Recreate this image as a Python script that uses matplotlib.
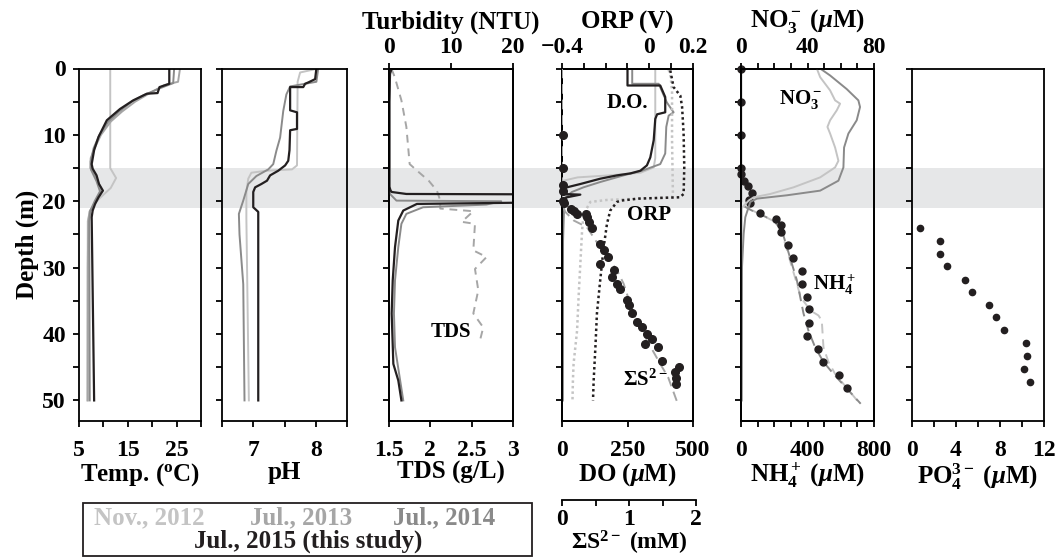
import matplotlib.pyplot as plt
import matplotlib.transforms as mtransforms
from matplotlib.patches import Rectangle

plt.rcParams['font.family'] = 'Liberation Serif'
plt.rcParams['font.weight'] = 'bold'
plt.rcParams['axes.labelweight'] = 'bold'
plt.rcParams['mathtext.fontset'] = 'custom'
plt.rcParams['mathtext.rm'] = 'Liberation Serif:bold'
plt.rcParams['mathtext.it'] = 'Liberation Serif:italic:bold'
plt.rcParams['mathtext.bf'] = 'Liberation Serif:bold'

C12 = '#c4c4c4'
C13 = '#a6a6a6'
C14 = '#8a8a8a'
CK = '#231f20'

# ---- data (depth in m) ----
temp_2012_d = [0, 15, 16.5, 18, 19.5, 20.6, 21.5, 23, 50]
temp_2012 = [11.4, 11.4, 12.6, 11.5, 9.3, 7.9, 7.2, 6.8, 6.7]
temp_2013_d = [0, 2.0, 2.5, 3.5, 5, 6.5, 8, 10, 12, 13.5, 15, 16, 17, 18, 19, 20, 21.5, 23, 30, 50]
temp_2013 = [25.7, 25.3, 22.5, 20.0, 16.5, 13.8, 11.5, 9.5, 8.2, 7.4, 7.3, 8.2, 8.8, 9.5, 9.3, 8.5, 7.2, 6.9, 6.8, 6.8]
temp_2014_d = [0, 2.2, 3.0, 4.0, 5.0, 6.5, 8, 10, 12, 14, 15.3, 17, 18.5, 20, 21.5, 23, 50]
temp_2014 = [24.5, 24.3, 21.5, 18.3, 15.8, 13.2, 11.0, 9.2, 8.0, 7.4, 7.5, 8.6, 9.3, 8.2, 7.3, 7.1, 7.2]
temp_2015_d = [0, 2.3, 2.8, 3.7, 3.8, 4.8, 6.1, 7.8, 10.3, 12.3, 14.4, 15.1, 16.1, 17.4, 18.4, 19.4, 20.4, 21.4, 22.4, 50]
temp_2015 = [23.5, 23.5, 21.5, 21.1, 18.9, 16.1, 13.4, 10.7, 9.0, 8.1, 7.6, 7.8, 8.6, 9.1, 9.9, 9.0, 8.3, 7.8, 7.6, 8.1]

ph_2012_d = [0, 0.6, 2.0, 14.6, 15.2, 15.4, 15.7, 16.6, 18.6, 22.6, 50]
ph_2012 = [8.04, 7.75, 7.71, 7.70, 7.62, 7.21, 6.97, 6.92, 6.89, 6.89, 6.93]
ph_2013_d = [0, 2.0, 2.7, 3.9, 6.4, 10.4, 12.4, 14.4, 15.2, 16.2, 17.4, 19.9, 21.9, 25, 32.5, 50]
ph_2013 = [8.04, 8.01, 7.59, 7.53, 7.48, 7.43, 7.37, 7.32, 7.24, 7.05, 6.92, 6.84, 6.77, 6.78, 6.84, 6.86]
ph_2015_d = [0, 1.6, 2.1, 2.3, 2.8, 2.8, 6.3, 6.6, 9.1, 9.3, 12.3, 13.9, 14.6, 15.4, 16.1, 16.9, 17.4, 17.9, 18.6, 20.9, 21.6, 50]
ph_2015 = [8.01, 7.99, 7.88, 7.83, 7.80, 7.59, 7.59, 7.70, 7.70, 7.59, 7.58, 7.56, 7.51, 7.40, 7.27, 7.22, 7.13, 7.03, 7.0, 7.0, 7.08, 7.08]

turb_2013_d = [0, 5, 18.0, 18.9, 19.9, 20.0, 20.5, 20.9, 21.9, 23.4, 26.9, 31.9, 36.9, 42, 47, 50]
turb_2013 = [0.2, 0.1, 0.1, 0.16, 1.2, 18.1, 15.7, 5.5, 2.8, 2.0, 1.5, 0.97, 0.80, 0.97, 1.8, 2.3]
turb_2015_d = [0, 0.8, 5, 17.8, 18.4, 18.6, 18.9, 19.0, 20.0, 20.4, 21.4, 22.9, 26.9, 31.9, 36.9, 44.5, 47, 50]
turb_2015 = [0.43, 0.16, 0.05, 0.05, 0.27, 0.43, 2.8, 40, 40, 4.5, 2.3, 1.5, 0.97, 0.6, 0.43, 0.7, 1.5, 2.0]
tds_d = [0.05, 1.3, 4.8, 8.8, 14.4, 15.4, 16.9, 18.4, 19.9, 21.1, 21.5, 23.1, 23.4, 27.4, 28.4, 30.2, 33.4, 36.9, 39.0, 41.0]
tds = [1.53, 1.57, 1.65, 1.71, 1.75, 1.84, 1.98, 2.08, 2.12, 2.12, 2.52, 2.38, 2.54, 2.52, 2.68, 2.54, 2.58, 2.52, 2.64, 2.60]

do_2012_d = [0, 13.5, 14.9, 15.7, 16.1, 16.4, 16.9, 18, 50]
do_2012 = [356, 356, 350, 300, 180, 60, 5, 0, 0]
do_2013_d = [0, 2.3, 2.3, 5.1, 6.6, 7.1, 8.8, 12.8, 14.4, 15.4, 16.1, 17.1, 17.9, 18.6, 19.4, 21, 26, 50]
do_2013 = [268, 268, 369, 400, 426, 407, 398, 394, 375, 305, 235, 146, 82, 38, 13, 8, 4, 3]
do_2015_d = [0, 2.56, 2.56, 4.3, 6.6, 6.9, 7.6, 10.8, 13.4, 14.6, 15.4, 15.8, 16.1, 16.6, 17.4, 17.9, 18.1, 18.9, 19.0, 19.4, 19.9, 50]
do_2015 = [250, 250, 375, 394, 394, 363, 356, 350, 337, 324, 299, 261, 210, 146, 70, 19, 0, 0, 70, 19, 0, 0]

orp_2012_d = [0.2, 0.8, 3.3, 10.8, 18.9, 19.4, 19.6, 19.8, 20.1, 21.9, 24.4, 29.4, 34.4, 39.5, 44.5, 47, 50]
orp_2012 = [0.088, 0.096, 0.104, 0.104, 0.108, 0.104, -0.041, -0.194, -0.270, -0.301, -0.308, -0.316, -0.324, -0.331, -0.347, -0.350, -0.352]
orp_2015_d = [0.3, 2.8, 4.1, 5.8, 9.8, 14.9, 18.9, 19.4, 19.6, 19.9, 20.1, 21.4, 23.4, 26.9, 31.9, 36.9, 42, 47, 50]
orp_2015 = [0.096, 0.111, 0.142, 0.150, 0.157, 0.160, 0.157, 0.14, -0.05, -0.13, -0.148, -0.179, -0.194, -0.209, -0.225, -0.240, -0.247, -0.255, -0.258]

sulf_2015_d = [10, 15, 17.6, 18.4, 19.9, 20.2, 21.1, 21.4, 21.9, 21.9, 22.4, 23.1, 24.1, 26.4, 27.4, 28.4, 29.4, 30.4,
               31.4, 32.4, 33.2, 34.9, 35.7, 36.9, 38.2, 39.0, 40.0, 40.7, 41.5, 42.0, 44.0, 45.0, 45.7, 46.6, 47.5]
sulf_2015 = [0.01, 0.01, 0.01, 0.01, 0.01, 0.03, 0.13, 0.18, 0.23, 0.36, 0.38, 0.41, 0.46, 0.58, 0.64, 0.70, 0.58, 0.79,
             0.76, 0.84, 0.89, 0.99, 1.02, 1.07, 1.15, 1.22, 1.30, 1.37, 1.27, 1.47, 1.53, 1.78, 1.73, 1.74, 1.74]
sulf_2013_d = [0, 20.4, 21.6, 22.9, 23.9, 26.9, 30.4, 32.4, 36.9, 41.0, 44.5, 46.5, 50.3]
sulf_2013 = [0, 0, 0.05, 0.18, 0.38, 0.58, 0.84, 0.94, 1.09, 1.30, 1.50, 1.62, 1.76]

no3_2012_d = [0, 1.3, 3.3, 4.8, 5.3, 6.3, 7.8, 8.8, 9.8, 11.9, 13.9, 14.9, 16.4, 17.9, 18.9, 19.4, 19.9, 21, 50]
no3_2012 = [45.6, 47.6, 53.6, 56.6, 59.6, 57.6, 53.6, 52.0, 53.6, 56.6, 58.6, 56.6, 47.6, 31.6, 17.6, 7.6, 4.6, 0.5, 0.3]
no3_2013_d = [0, 1.05, 3.1, 4.8, 5.8, 7.8, 9.8, 11.9, 14.9, 16.9, 18.4, 19.1, 19.6, 20.1, 22.4, 24.9, 29.9, 50]
no3_2013 = [47.6, 53.6, 63.6, 70.6, 71.6, 69.6, 64.6, 62.0, 61.6, 58.6, 47.6, 27.6, 9.6, 5.6, 2.6, 1.6, 0.6, 0.4]
no3_2015_d = [0, 20]
no3_2015 = [0.3, 0.3]

nh4_2015_d = [0, 5, 10, 15, 15.9, 16.9, 17.7, 18.8, 19.8, 20.2, 21.7, 22.7, 23.6, 24.6, 26.6, 28.6, 30.5, 32.5, 34.4,
              36.3, 38.4, 40.3, 42.2, 44.2, 46.1, 48.2]
nh4_2015 = [0, 0, 0, 0, 0, 20, 40, 68, 46, 56, 112, 212, 240, 240, 282, 312, 366, 366, 396,
            410, 410, 396, 466, 496, 588, 638]
nh4_2013_d = [0, 20.5, 21.4, 22.9, 24.4, 26.9, 29.4, 31.9, 34.4, 36.9, 39.5, 42.0, 44.2, 46.0, 50.5]
nh4_2013 = [0, 0, 66, 196, 246, 276, 306, 336, 356, 376, 406, 446, 496, 556, 720]
nh4_2012_d = [21.4, 22.9, 24.4, 26.9, 29.4, 31.9, 34.5, 36.5, 37.2, 38.0, 42.0, 44.2, 46.0, 50.5]
nh4_2012 = [70, 190, 240, 272, 300, 330, 360, 420, 466, 486, 496, 526, 566, 715]

po4_2015_d = [24.1, 26.0, 27.9, 29.8, 31.8, 33.7, 35.6, 37.5, 39.4, 41.4, 43.3, 45.3, 47.2]
po4_2015 = [0.73, 2.52, 2.52, 3.21, 4.85, 5.45, 6.97, 7.67, 8.33, 10.33, 10.45, 10.15, 10.76]

legend_labels = ['Nov., 2012', 'Jul., 2013', 'Jul., 2014', 'Jul., 2015 (this study)']

# ---- layout ----
W, H = 1058, 558
fig = plt.figure(figsize=(W / 100, H / 100), dpi=100)
TOP, BOT = 68.5, 421
DMAX = 53.1
FS = 17


def panel(x0, x1):
    ax = fig.add_axes([x0 / W, 1 - BOT / H, (x1 - x0) / W, (BOT - TOP) / H])
    ax.set_facecolor('none')
    ax.set_ylim(DMAX, 0)
    ax.set_yticks(range(0, 51, 5))
    ax.set_yticklabels([])
    ax.tick_params(direction='out', length=4.5, width=1.3, labelsize=FS)
    ax.tick_params(axis='x', pad=9)
    ax.tick_params(axis='y', pad=5)
    for s in ax.spines.values():
        s.set_linewidth(1.3)
    return ax


def top_twin(ax):
    t = ax.twiny()
    t.tick_params(direction='out', length=4.5, width=1.3, labelsize=FS, pad=3)
    for s in t.spines.values():
        s.set_linewidth(1.3)
    return t


ax1 = panel(79, 201)
ax2 = panel(222, 347)
ax3 = panel(389, 513)
ax4 = panel(562, 693)
ax5 = panel(741, 874)
ax6 = panel(912, 1044)

# grey band (15-21 m) across all panels
tr = mtransforms.blended_transform_factory(fig.transFigure, ax1.transData)
fig.add_artist(Rectangle((79 / W, 15), (1044 - 79) / W, 6, transform=tr,
                         facecolor='#e6e7e8', edgecolor='none', zorder=-1))

# panel 1: temperature
ax1.plot(temp_2012, temp_2012_d, color=C12, lw=1.4)
ax1.plot(temp_2013, temp_2013_d, color=C13, lw=1.4)
ax1.plot(temp_2014, temp_2014_d, color=C14, lw=1.4)
ax1.plot(temp_2015, temp_2015_d, color=CK, lw=1.6)
ax1.set_xlim(5, 30)
ax1.set_xticks(range(5, 31, 5))
ax1.set_xticklabels(['5', '', '15', '', '25', ''])
ax1.set_yticklabels(['0', '', '10', '', '20', '', '30', '', '40', '', '50'])
ax1.set_xlabel('Temp. ($^{\\mathrm{o}}$C)', fontsize=18, labelpad=0)
ax1.set_ylabel('Depth (m)', fontsize=18, labelpad=2)

# panel 2: pH
ax2.plot(ph_2012, ph_2012_d, color=C12, lw=1.4)
ax2.plot(ph_2013, ph_2013_d, color=C14, lw=1.4)
ax2.plot(ph_2015, ph_2015_d, color=CK, lw=1.6)
ax2.set_xlim(6.5, 8.5)
ax2.set_xticks([6.5, 7, 7.5, 8, 8.5])
ax2.set_xticklabels(['', '7', '', '8', ''])
ax2.set_xlabel('pH', fontsize=18, labelpad=0)

# panel 3: TDS (bottom) and turbidity (top)
ax3.plot(tds, tds_d, color=C13, lw=1.4, ls=(0, (4, 3)))
ax3.set_xlim(1.5, 3)
ax3.set_xticks([1.5, 2, 2.5, 3])
ax3.set_xticklabels(['1.5', '2', '2.5', '3'])
ax3.set_xlabel('TDS (g/L)', fontsize=18, labelpad=0)
ax3t = top_twin(ax3)
ax3t.plot(turb_2013, turb_2013_d, color=C14, lw=1.4)
ax3t.plot(turb_2015, turb_2015_d, color=CK, lw=1.6)
ax3t.set_xlim(0, 20)
ax3t.set_xticks([0, 10, 20])
ax3t.set_xlabel('Turbidity (NTU)', fontsize=18, labelpad=6)
fig.text(451 / W, 1 - 332 / H, 'TDS', fontsize=15, ha='center', va='center')

# panel 4: DO (bottom), ORP (top), sulfide (extra axis)
ax4.plot(do_2012, do_2012_d, color=C12, lw=1.4)
ax4.plot(do_2013, do_2013_d, color=C14, lw=1.4)
ax4.plot(do_2015, do_2015_d, color=CK, lw=1.6)
ax4.set_xlim(0, 500)
ax4.set_xticks([0, 250, 500])
ax4.set_xlabel('DO ($\\mu$M)', fontsize=18, labelpad=0)
ax4t = top_twin(ax4)
ax4t.plot(orp_2012, orp_2012_d, color=C12, lw=1.8, ls=(0, (1, 1.2)))
ax4t.plot(orp_2015, orp_2015_d, color=CK, lw=1.8, ls=(0, (1, 1.2)))
ax4t.set_xlim(-0.4, 0.2)
ax4t.set_xticks([-0.4, -0.3, -0.2, -0.1, 0, 0.1, 0.2])
ax4t.set_xticklabels(['\u22120.4', '', '', '', '0', '', '0.2'])
ax4t.set_xlabel('ORP (V)', fontsize=18, labelpad=6)
ax4s = ax4.twiny()
ax4s.set_xlim(0, 2)
ax4s.xaxis.set_visible(False)
for s in ax4s.spines.values():
    s.set_visible(False)
ax4s.plot(sulf_2013, sulf_2013_d, color=C13, lw=1.4, ls=(0, (5, 3)))
ax4s.plot(sulf_2015, sulf_2015_d, 'o', color=CK, ms=5.5, clip_on=False)
fig.text(627 / W, 1 - 103 / H, 'D.O.', fontsize=15, ha='center', va='center')
fig.text(649 / W, 1 - 215 / H, 'ORP', fontsize=15, ha='center', va='center')
fig.text(645 / W, 1 - 380 / H, '\u03a3S$^{2-}$', fontsize=15, ha='center', va='center')

axS = fig.add_axes([562 / W, 1 - 500 / H, 134 / W, 0.0001])
axS.set_facecolor('none')
for k in ['left', 'right', 'top']:
    axS.spines[k].set_visible(False)
axS.spines['bottom'].set_linewidth(1.3)
axS.set_yticks([])
axS.set_xlim(0, 2)
axS.set_xticks([0, 0.5, 1, 1.5, 2])
axS.set_xticklabels(['0', '', '1', '', '2'])
axS.tick_params(direction='out', length=4.5, width=1.3, labelsize=FS, pad=2)
axS.set_xlabel('\u03a3S$^{2-}$ (mM)', fontsize=17, labelpad=-1)

# panel 5: NH4 (bottom), NO3 (top)
ax5.plot(nh4_2012, nh4_2012_d, color=C12, lw=1.4, ls=(0, (5, 3)))
ax5.plot(nh4_2013, nh4_2013_d, color=C14, lw=1.4, ls=(0, (5, 3)))
ax5.plot(nh4_2015, nh4_2015_d, 'o', color=CK, ms=5, clip_on=False)
ax5.set_xlim(0, 800)
ax5.set_xticks(range(0, 801, 100))
ax5.set_xticklabels(['0', '', '', '', '400', '', '', '', '800'])
ax5.set_xlabel('NH$_4^+$ ($\\mu$M)', fontsize=18, labelpad=0)
ax5t = top_twin(ax5)
ax5t.plot(no3_2012, no3_2012_d, color=C12, lw=1.4)
ax5t.plot(no3_2013, no3_2013_d, color=C14, lw=1.4)
ax5t.plot(no3_2015, no3_2015_d, color=CK, lw=1.6)
ax5t.set_xlim(0, 80)
ax5t.set_xticks(range(0, 81, 10))
ax5t.set_xticklabels(['0', '', '', '', '40', '', '', '', '80'])
ax5t.set_xlabel('NO$_3^-$ ($\\mu$M)', fontsize=18, labelpad=7)
fig.text(801 / W, 1 - 99 / H, 'NO$_3^-$', fontsize=15, ha='center', va='center')
fig.text(835 / W, 1 - 285 / H, 'NH$_4^+$', fontsize=15, ha='center', va='center')

# panel 6: PO4
ax6.plot(po4_2015, po4_2015_d, 'o', color=CK, ms=4.5)
ax6.set_xlim(0, 12)
ax6.set_xticks(range(0, 13, 2))
ax6.set_xticklabels(['0', '', '4', '', '8', '', '12'])
ax6.set_xlabel('PO$_4^{3-}$ ($\\mu$M)', fontsize=18, labelpad=0)

# legend box
fig.add_artist(Rectangle((83 / W, 1 - 556 / H), (532 - 83) / W, (556 - 503) / H,
                         transform=fig.transFigure, fill=False, edgecolor=CK, lw=1.3))
fig.text(149 / W, 1 - 518 / H, legend_labels[0], color=C12, fontsize=18, ha='center', va='center')
fig.text(301 / W, 1 - 518 / H, legend_labels[1], color=C13, fontsize=18, ha='center', va='center')
fig.text(444 / W, 1 - 518 / H, legend_labels[2], color=C14, fontsize=18, ha='center', va='center')
fig.text(308 / W, 1 - 541 / H, legend_labels[3], color=CK, fontsize=18, ha='center', va='center')

fig.savefig('out.png', dpi=100)
